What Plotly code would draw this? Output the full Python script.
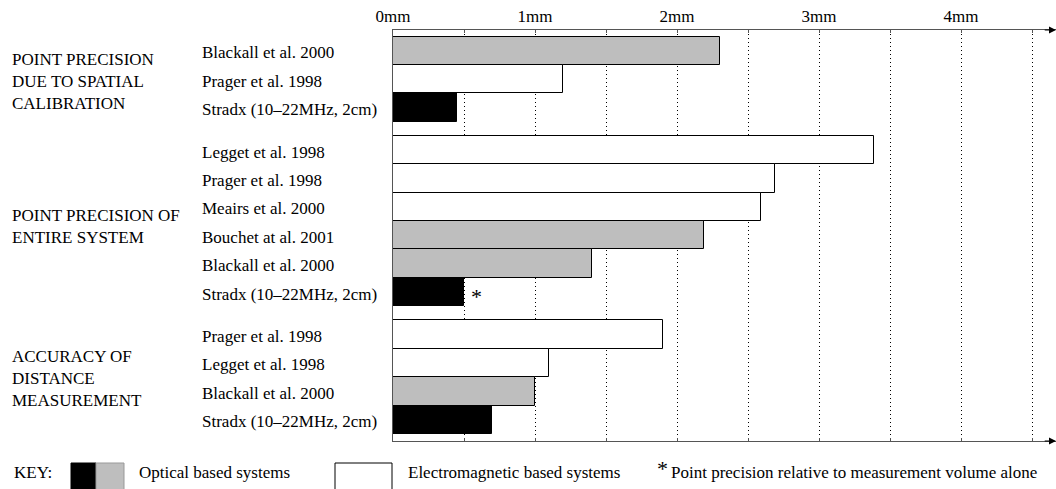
import plotly.graph_objects as go

# ---------------- data ----------------
group_titles = [
    "POINT PRECISION<br>DUE TO SPATIAL<br>CALIBRATION",
    "POINT PRECISION OF<br>ENTIRE SYSTEM",
    "ACCURACY OF<br>DISTANCE<br>MEASUREMENT",
]

g1_labels = ["Blackall et al. 2000", "Prager et al. 1998", "Stradx (10\u201322MHz, 2cm)"]
g1_values = [2.30, 1.20, 0.45]
g1_types = ["gray", "white", "black"]

g2_labels = ["Legget et al. 1998", "Prager et al. 1998", "Meairs et al. 2000",
             "Bouchet at al. 2001", "Blackall et al. 2000", "Stradx (10\u201322MHz, 2cm)"]
g2_values = [3.39, 2.69, 2.59, 2.19, 1.40, 0.50]
g2_types = ["white", "white", "white", "gray", "gray", "black"]

g3_labels = ["Prager et al. 1998", "Legget et al. 1998", "Blackall et al. 2000",
             "Stradx (10\u201322MHz, 2cm)"]
g3_values = [1.90, 1.10, 1.00, 0.70]
g3_types = ["white", "white", "gray", "black"]

tick_vals = [0, 0.5, 1, 1.5, 2, 2.5, 3, 3.5, 4, 4.5]
tick_text = ["0mm", "", "1mm", "", "2mm", "", "3mm", "", "4mm", ""]

starred = ("POINT PRECISION OF<br>ENTIRE SYSTEM", "Stradx (10\u201322MHz, 2cm)")

key_texts = ["KEY:", "Optical based systems", "Electromagnetic based systems",
             "Point precision relative to measurement volume alone"]

# ---------------- styling ----------------
W, H = 1056, 489
FONT = "Liberation Serif, Times New Roman, serif"
FS = 17
fill = {"black": "#000000", "gray": "#bebebe", "white": "#ffffff"}
AX = "#555555"


def px(x):
    return x / W


def py(y):
    return 1 - y / H


groups = [(g1_labels, g1_values, g1_types),
          (g2_labels, g2_values, g2_types),
          (g3_labels, g3_values, g3_types)]

slots, labels, values, colors, group_centers = [], [], [], [], []
s = 0.0
for labs, vals, typs in groups:
    start = s
    for lab, v, t in zip(labs, vals, typs):
        slots.append(s)
        labels.append(lab)
        values.append(v)
        colors.append(fill[t])
        s += 1
    group_centers.append((start + s - 1) / 2)
    s += 0.5

fig = go.Figure()
fig.add_trace(go.Bar(
    x=values, y=slots, orientation="h", width=[1] * len(values),
    marker=dict(color=colors, line=dict(color="#000000", width=1)),
    hoverinfo="skip", showlegend=False,
))
# invisible trace to activate bottom axis
fig.add_trace(go.Scatter(x=[0], y=[0], xaxis="x2", mode="markers",
                         marker=dict(opacity=0), hoverinfo="skip", showlegend=False))

xmax = (W - 393) / 142.0
ytop = -0.736
ybot = 13.75

fig.update_layout(
    template="none",
    width=W, height=H, autosize=False,
    margin=dict(l=0, r=0, t=0, b=0, pad=0, autoexpand=False),
    paper_bgcolor="white", plot_bgcolor="white",
    font=dict(family=FONT, size=FS, color="black"),
    bargap=0,
    xaxis=dict(
        domain=[px(393), 1], range=[0, xmax], side="top", automargin=False,
        tickmode="array", tickvals=tick_vals, ticktext=tick_text,
        ticks="inside", ticklen=3, tickcolor=AX, tickwidth=1,
        showline=True, linecolor=AX, linewidth=1,
        showgrid=True, gridcolor="#000000", gridwidth=1, griddash="1px,3px",
        zeroline=False, anchor="y",
        tickfont=dict(family=FONT, size=FS, color="black"),
    ),
    xaxis2=dict(
        overlaying="x", matches="x", side="bottom", anchor="y", automargin=False,
        tickmode="array", tickvals=tick_vals, showticklabels=False,
        ticks="inside", ticklen=3, tickcolor=AX, tickwidth=1,
        showline=True, linecolor=AX, linewidth=1,
        showgrid=False, zeroline=False,
    ),
    yaxis=dict(
        domain=[py(441), py(30)], range=[ybot, ytop], automargin=False,
        showticklabels=False, ticks="", showgrid=False, zeroline=False,
        showline=True, linecolor=AX, linewidth=1,
    ),
)

ann = []
# row labels
for y, lab in zip(slots, labels):
    ann.append(dict(x=px(200), xref="paper", y=y, yref="y", text=lab,
                    xanchor="left", yanchor="middle", showarrow=False,
                    yshift=-2, font=dict(size=FS, color="black")))
# group titles
title_shift = [-2, -5, -1]
for c, t, sh in zip(group_centers, group_titles, title_shift):
    ann.append(dict(x=px(10), xref="paper", y=c, yref="y", text=t, align="left",
                    xanchor="left", yanchor="middle", showarrow=False,
                    yshift=sh, font=dict(size=FS, color="black")))
# asterisk on the starred bar
gi = group_titles.index(starred[0])
idx = sum(len(g[0]) for g in groups[:gi]) + groups[gi][0].index(starred[1])
ann.append(dict(x=values[idx], xref="x", y=slots[idx], yref="y", text="*",
                xanchor="left", yanchor="middle", showarrow=False,
                xshift=5, yshift=-4, font=dict(size=22, color="black")))
# axis arrows
for yy in (ytop, ybot):
    ann.append(dict(x=xmax, y=yy, xref="x", yref="y", ax=xmax - 0.09, ay=yy,
                    axref="x", ayref="y", text="", showarrow=True,
                    arrowhead=2, arrowsize=1.4, arrowwidth=1, arrowcolor="#000000"))
# key texts
kf = dict(size=FS, color="black")
ann.append(dict(x=px(12), y=py(472), xref="paper", yref="paper", text=key_texts[0],
                xanchor="left", yanchor="middle", showarrow=False, font=kf))
ann.append(dict(x=px(137), y=py(472), xref="paper", yref="paper", text=key_texts[1],
                xanchor="left", yanchor="middle", showarrow=False, font=kf))
ann.append(dict(x=px(406), y=py(472), xref="paper", yref="paper", text=key_texts[2],
                xanchor="left", yanchor="middle", showarrow=False, font=kf))
ann.append(dict(x=px(655), y=py(468), xref="paper", yref="paper", text="*",
                xanchor="left", yanchor="middle", showarrow=False,
                font=dict(size=22, color="black")))
ann.append(dict(x=px(669), y=py(472), xref="paper", yref="paper", text=key_texts[3],
                xanchor="left", yanchor="middle", showarrow=False, font=kf))
fig.update_layout(annotations=ann)

# key swatches
shapes = [
    dict(type="rect", xref="paper", yref="paper", x0=px(71), x1=px(96), y0=py(492), y1=py(463),
         fillcolor="#000000", line=dict(color="#000000", width=1)),
    dict(type="rect", xref="paper", yref="paper", x0=px(96), x1=px(124), y0=py(492), y1=py(463),
         fillcolor="#bebebe", line=dict(color="#999999", width=1)),
    dict(type="rect", xref="paper", yref="paper", x0=px(335), x1=px(392), y0=py(492), y1=py(463),
         fillcolor="#ffffff", line=dict(color="#000000", width=1)),
]
fig.update_layout(shapes=shapes)

fig.write_html(
    "out.html",
    config={"displayModeBar": False, "responsive": False},
    post_script="document.body.style.margin='0';document.body.style.padding='0';"
                "document.body.style.overflow='hidden';"
                "document.documentElement.style.overflow='hidden';",
)
